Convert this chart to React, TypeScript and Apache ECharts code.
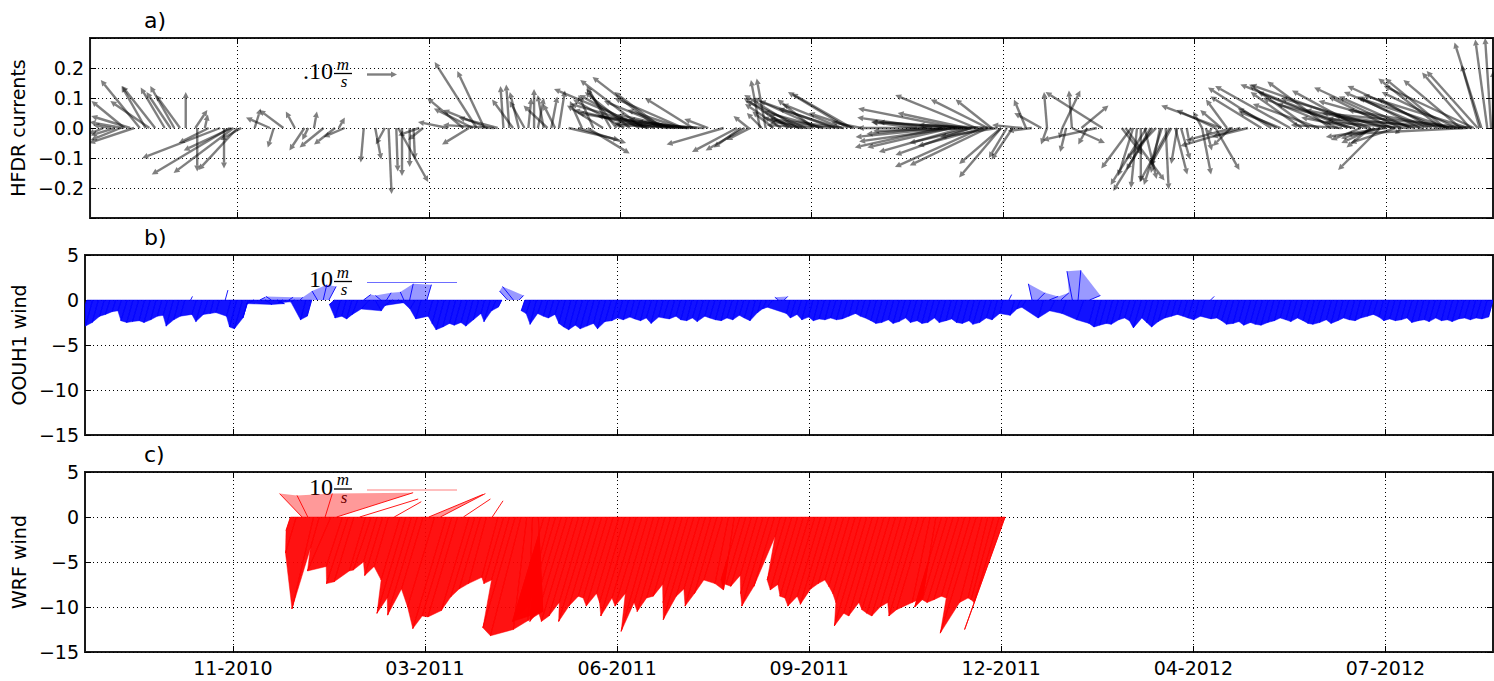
import React, { useEffect, useRef } from 'react';
import * as echarts from 'echarts';

// x axis: days counted from the 11-2010 tick
const tickDays = [0, 100, 200, 300, 400, 500, 600];
const tickLabels = ['11-2010', '03-2011', '06-2011', '09-2011', '12-2011', '04-2012', '07-2012'];
const dayMin = -77;
const dayMax = 656;

const panelTitles = ['a)', 'b)', 'c)'];
const panelNames = ['HFDR currents', 'OOUH1 wind', 'WRF wind'];

// HFDR currents: [day, u (m/s), v (m/s)]
const currentArrows = [
  [-59, -0.11, 0.09], [-56, -0.13, 0.04], [-60, -0.11, 0.02], [-61, -0.1, -0.04], [-64, -0.08, -0.025], [-54, -0.15, -0.05],
  [-51, -0.13, 0.16], [-48, -0.08, 0.14], [-43, -0.11, 0.14], [-38, -0.08, 0.135], [-33, -0.08, 0.14], [-35, -0.08, 0.12],
  [-30, -0.08, 0.11], [-27, 0, 0.12], [-46, -0.13, 0.09], [-66, -0.06, 0.01], [-70, -0.05, -0.02],
  [-22, 0.04, 0.06], [-17, 0.01, 0.045], [-9, -0.26, -0.1], [-4, -0.26, -0.155], [-2, -0.2, -0.15], [0, -0.13, -0.14],
  [-21, 0, -0.145], [-7, 0, -0.135], [-15, -0.1, -0.05], [-3, -0.16, -0.075], [2, -0.07, -0.04],
  [9, 0.02, 0.065], [17, -0.08, 0.035], [19, -0.02, -0.065], [24, -0.08, 0.06], [30, -0.03, 0.055], [35, -0.05, -0.075],
  [40, 0.01, 0.055], [37, -0.02, -0.04], [45, -0.08, -0.065], [51, -0.07, -0.055], [56, -0.07, -0.03], [53, 0.02, 0.035],
  [66, -0.01, -0.115], [72, 0.02, -0.105], [77, -0.03, -0.055], [79, 0.01, -0.22], [83, 0.005, -0.145], [86, 0, -0.16],
  [90, 0, -0.13], [84, 0.1, -0.18], [92, 0.005, -0.105], [95, -0.07, -0.025], [97, -0.05, -0.04],
  [125, -0.14, 0.22], [129, -0.09, 0.19], [118, -0.12, 0.1], [123, -0.13, 0.065], [131, -0.15, 0.06], [136, -0.13, 0.035],
  [121, -0.09, -0.055], [134, -0.17, 0.01], [110, -0.1, 0.02],
  [139, -0.01, 0.14], [142, -0.01, 0.145], [144, -0.07, 0.095], [152, 0.01, 0.1], [157, 0.02, 0.1], [164, 0.02, 0.105],
  [168, 0.02, 0.125], [162, -0.08, 0.075], [147, -0.03, 0.12], [150, -0.05, 0.09], [155, 0, 0.13], [160, -0.02, 0.11],
  [166, -0.04, 0.08],
  [212, -0.21, 0.16], [220, -0.22, 0.17], [222, -0.16, 0.12], [233, -0.23, 0.1], [238, -0.16, 0.1], [214, -0.31, 0.13],
  [202, -0.17, 0.095], [191, -0.12, 0.075], [178, 0.16, -0.05], [183, 0.14, -0.085], [173, 0.17, -0.04],
  [228, -0.15, 0.03], [236, -0.25, 0.01], [240, -0.2, 0.02], [244, -0.3, 0.015], [230, -0.2, 0.045],
  [215, -0.25, 0.06], [218, -0.28, 0.08], [225, -0.3, 0.05], [226, -0.22, 0.09], [232, -0.18, 0.06], [235, -0.3, 0.04],
  [210, -0.2, 0.11], [205, -0.15, 0.12], [198, -0.1, 0.13], [195, -0.08, 0.14], [186, -0.05, 0.11], [180, -0.04, 0.09],
  [254, -0.19, -0.055], [261, -0.15, -0.08], [265, -0.13, -0.075], [268, -0.08, -0.04], [263, -0.09, -0.065], [246, -0.08, 0.03],
  [267, -0.05, 0.04], [274, -0.05, 0.05], [273, -0.03, 0.16], [276, -0.03, 0.165], [280, -0.07, 0.055], [319, -0.2, 0.12],
  [321, -0.2, 0.115], [314, -0.2, 0.065], [306, -0.2, 0.055], [295, -0.13, 0.035], [301, -0.12, 0.095], [290, -0.08, 0.045],
  [300, -0.15, 0.01], [310, -0.2, 0.02], [317, -0.25, 0.03],
  [284, -0.12, 0.08], [288, -0.15, 0.1], [293, -0.18, 0.11], [297, -0.2, 0.09], [304, -0.22, 0.1], [312, -0.25, 0.09],
  [316, -0.2, 0.08], [322, -0.15, 0.05], [326, -0.1, 0.02],
  [376, -0.33, 0.065], [381, -0.23, 0.05], [363, -0.25, 0.035], [368, -0.28, 0], [386, -0.27, 0.11], [392, -0.19, 0.095],
  [394, -0.12, 0.095], [368, -0.29, -0.065], [373, -0.28, -0.065], [379, -0.28, -0.08], [389, -0.29, -0.13], [384, -0.21, -0.05],
  [397, -0.19, -0.03], [392, -0.26, -0.125], [399, -0.14, -0.165], [402, -0.06, -0.1], [399, -0.14, -0.12],
  [382, -0.3, 0.02], [387, -0.35, -0.01], [395, -0.25, 0.01],
  [355, -0.15, 0.02], [360, -0.2, -0.02], [370, -0.3, -0.03], [375, -0.32, -0.045], [378, -0.3, 0.02], [383, -0.25, -0.09],
  [390, -0.22, -0.06],
  [405, -0.07, -0.105], [412, -0.04, 0.095], [420, -0.09, 0.05], [423, -0.01, 0.12], [452, -0.19, 0.12], [436, -0.01, 0.125],
  [431, 0.06, 0.125], [441, 0.09, 0.075], [436, 0.11, -0.05], [423, -0.02, -0.055], [431, -0.01, -0.035], [433, -0.02, -0.08],
  [444, -0.03, -0.055], [449, -0.18, -0.04], [410, -0.1, 0.01], [415, -0.08, -0.01],
  [467, -0.1, -0.135], [475, -0.12, -0.19], [478, -0.13, -0.21], [470, -0.02, -0.2], [472, 0, -0.18], [483, -0.06, -0.19],
  [485, 0.01, -0.205], [490, 0.04, -0.155], [493, 0.03, -0.105], [496, 0.01, -0.055], [462, 0.07, -0.09], [480, -0.1, -0.105],
  [488, -0.07, -0.125], [464, 0.13, -0.175],
  [468, -0.05, -0.16], [474, 0.04, -0.17], [477, -0.08, -0.14], [482, -0.03, -0.15], [487, -0.1, -0.18], [491, -0.02, -0.12],
  [504, 0.03, -0.155], [511, 0.08, -0.14], [509, -0.01, -0.02], [514, -0.2, 0.075], [511, -0.13, 0.06], [504, -0.03, 0.055],
  [514, -0.07, 0.06], [517, -0.07, 0.095], [506, 0.02, -0.075], [519, -0.06, -0.06],
  [520, -0.15, -0.04], [524, -0.2, -0.06], [528, -0.12, -0.03],
  [540, -0.21, 0.135], [535, -0.17, 0.105], [550, -0.25, 0.14], [543, -0.13, 0.065], [545, -0.14, 0.055], [560, -0.2, 0.145],
  [556, -0.17, 0.12],
  [582, -0.37, 0.145], [592, -0.4, 0.145], [571, -0.21, 0.155], [587, -0.23, 0.125], [608, -0.29, 0.135], [603, -0.21, 0.105],
  [613, -0.24, 0.105], [618, -0.21, 0.105], [624, -0.18, 0.1], [631, -0.2, 0.165], [639, -0.19, 0.16], [644, -0.16, 0.185],
  [629, -0.21, 0.165], [597, -0.13, -0.035], [594, -0.11, -0.05], [592, -0.08, -0.065], [597, -0.14, -0.14], [608, -0.02, -0.02],
  [587, -0.1, -0.04], [577, -0.17, 0.01], [584, -0.18, 0.035],
  [565, -0.22, 0.08], [575, -0.25, 0.1], [580, -0.3, 0.12], [590, -0.3, 0.08], [600, -0.35, 0.1], [605, -0.3, 0.06],
  [615, -0.32, 0.09], [622, -0.28, 0.12], [627, -0.3, 0.14], [633, -0.3, 0.1], [637, -0.25, 0.12], [643, -0.35, 0.11],
  [646, -0.3, 0.14], [600, -0.2, -0.03], [605, -0.15, -0.05],
  [640, -0.45, 0.03], [645, -0.5, 0.05], [642, -0.4, -0.02], [635, -0.35, 0.06], [620, -0.3, 0.04], [612, -0.28, 0.02],
  [650, -0.09, 0.285], [653, -0.04, 0.295], [655, -0.02, 0.3], [649, -0.06, 0.21], [656, 0, 0.19], [648, -0.17, 0.19],
];

// OOUH1 wind sticks: [day, u (m/s), v (m/s)]
const oouh1Wind = [
  [-76, -0.6, -2.0], [-73, -0.8, -2.9], [-70, -0.7, -2.5], [-67, -0.5, -1.8], [-64, -0.5, -1.6], [-61, -0.4, -1.3],
  [-58, -0.4, -1.2], [-55, -0.7, -2.3], [-52, -0.7, -2.5], [-49, -0.7, -2.4], [-46, -0.6, -2.3], [-43, -0.7, -2.5],
  [-40, -0.6, -2.2], [-37, -0.5, -1.8], [-34, -0.5, -1.7], [-31, -0.8, -2.9], [-28, -0.6, -2.2], [-25, -0.5, -1.8],
  [-22, 0.2, 0.4], [-19, -0.5, -1.6], [-16, -0.7, -2.4], [-13, -0.5, -1.6], [-10, -0.4, -1.5], [-7, -0.4, -1.4],
  [-4, 0.3, 1.1], [-1, -0.5, -1.8], [2, -0.8, -3.0], [5, -0.9, -3.2], [8, -0.6, -2.0], [11, -0.8, -0.4],
  [14, 0.6, 0.3], [17, 0.7, -0.5], [20, -0.6, 0.4], [23, 0.8, -0.4], [26, -0.5, -0.3], [29, 0.5, 0.3],
  [32, -0.4, -0.2], [35, 0.3, 0.3], [38, -0.6, -2.2], [41, -0.5, -1.8], [44, -0.6, 1.0], [47, 0.4, 1.7],
  [50, 0.8, 1.5], [53, -0.6, -0.5], [56, -0.6, -2.0], [59, -0.5, -1.8], [62, -0.6, -2.1], [65, -0.6, -1.6],
  [68, 0.8, 0.6], [71, -0.9, -1.0], [74, 0.7, -1.2], [77, -0.6, 0.5], [80, 0.5, 0.8], [83, -0.8, -0.6],
  [86, 0.6, -0.3], [89, -0.4, 0.9], [92, 0.4, 1.8], [95, -0.6, -1.0], [98, -0.6, -2.1], [101, 0.5, 1.7],
  [104, -0.5, -1.8], [107, -0.7, -2.6], [110, -0.9, -3.3], [113, -0.8, -3.0], [116, -0.7, -2.6], [119, -0.8, -2.8],
  [122, -0.7, -2.5], [125, -0.8, -2.9], [128, -0.6, -2.2], [131, -0.4, -1.5], [134, -0.7, -2.4], [137, -0.5, -1.2],
  [140, -0.4, -0.8], [143, -0.9, 1.0], [146, -1.2, 1.5], [149, 0.5, 0.5], [152, -0.4, -1.2], [155, -0.5, -1.5],
  [158, -0.7, -2.7], [161, -0.5, -1.5], [164, -0.5, -1.8], [167, -0.6, -2.0], [170, -0.5, -1.6], [173, -0.7, -2.6],
  [176, -0.8, -3.0], [179, -0.9, -3.3], [182, -0.8, -2.8], [185, -0.9, -3.2], [188, -0.8, -2.9], [191, -0.7, -2.6],
  [194, -0.9, -3.2], [197, -0.7, -2.4], [200, -0.6, -2.3], [203, -0.6, -2.0], [206, -0.6, -2.2], [209, -0.5, -1.9],
  [212, -0.6, -2.1], [215, -0.6, -2.3], [218, -0.6, -2.0], [221, -0.7, -2.6], [224, -0.5, -1.9], [227, -0.6, -2.0],
  [230, -0.6, -2.1], [233, -0.5, -1.8], [236, -0.6, -2.2], [239, -0.6, -2.3], [242, -0.6, -2.0], [245, -0.7, -2.4],
  [248, -0.5, -1.8], [251, -0.6, -2.0], [254, -0.6, -2.2], [257, -0.6, -2.3], [260, -0.6, -2.0], [263, -0.6, -2.2],
  [266, -0.5, -1.7], [269, -0.6, -2.0], [272, -0.6, -2.3], [275, -0.4, -1.4], [278, -0.5, -1.0], [281, -0.6, -0.8],
  [284, -0.4, 0.3], [287, 0.4, 0.4], [290, -0.4, -1.5], [293, -0.6, -2.0], [296, -0.5, -1.6], [299, -0.6, -2.2],
  [302, -0.5, -1.9], [305, -0.6, -2.3], [308, -0.6, -2.1], [311, -0.6, -2.2], [314, -0.6, -2.0], [317, -0.6, -2.2],
  [320, -0.6, -2.1], [323, -0.5, -1.8], [326, -0.4, -1.5], [329, -0.5, -1.8], [332, -0.6, -2.0], [335, -0.6, -2.3],
  [338, -0.7, -2.6], [341, -0.7, -2.5], [344, -0.6, -2.2], [347, -0.7, -2.6], [350, -0.7, -2.4], [353, -0.6, -2.0],
  [356, -0.7, -2.5], [359, -0.6, -2.3], [362, -0.7, -2.6], [365, -0.7, -2.5], [368, -0.6, -2.0], [371, -0.7, -2.5],
  [374, -0.6, -2.3], [377, -0.6, -2.1], [380, -0.7, -2.5], [383, -0.7, -2.6], [386, -0.6, -2.3], [389, -0.8, -2.7],
  [392, -0.7, -2.5], [395, -0.6, -2.0], [398, -0.6, -2.2], [401, -0.4, -1.5], [404, 0.3, 0.6], [407, -0.5, -1.7],
  [410, -0.4, -1.0], [413, -0.5, -0.8], [416, -0.4, 1.8], [419, 0.8, 0.8], [422, -0.6, -2.0], [425, 1.0, 0.4],
  [428, -0.6, -1.2], [431, 0.9, 0.8], [434, -0.5, -1.5], [437, -0.6, 3.2], [440, 0.3, 3.3], [443, -0.8, -2.2],
  [446, 1.2, 0.5], [449, -0.7, -2.6], [452, -0.8, -3.0], [455, -0.8, -2.8], [458, -0.7, -2.6], [461, -0.8, -2.7],
  [464, -0.6, -2.2], [467, -0.6, -2.0], [470, -0.7, -2.3], [473, -0.9, -3.1], [476, -0.6, -2.0], [479, -0.7, -2.5],
  [482, -0.8, -3.0], [485, -0.7, -2.4], [488, -0.6, -2.0], [491, -0.5, -1.8], [494, -0.5, -1.6], [497, -0.5, -1.8],
  [500, -0.6, -2.0], [503, -0.6, -2.2], [506, -0.5, -1.8], [509, 0.4, 0.4], [512, -0.6, -2.1], [515, -0.6, -2.0],
  [518, -0.7, -2.3], [521, -0.8, -2.7], [524, -0.7, -2.6], [527, -0.7, -2.4], [530, -0.8, -2.8], [533, -0.7, -2.5],
  [536, -0.8, -2.7], [539, -0.8, -2.8], [542, -0.7, -2.5], [545, -0.6, -2.3], [548, -0.6, -2.0], [551, -0.6, -2.2],
  [554, -0.7, -2.4], [557, -0.6, -2.0], [560, -0.6, -2.3], [563, -0.7, -2.6], [566, -0.8, -2.7], [569, -0.7, -2.5],
  [572, -0.6, -2.2], [575, -0.7, -2.6], [578, -0.6, -2.3], [581, -0.6, -2.0], [584, -0.6, -2.2], [587, -0.6, -2.3],
  [590, -0.6, -2.0], [593, -0.5, -1.8], [596, -0.5, -1.6], [599, -0.5, -1.9], [602, -0.6, -2.3], [605, -0.6, -2.1],
  [608, -0.6, -2.3], [611, -0.6, -2.2], [614, -0.6, -2.0], [617, -0.7, -2.5], [620, -0.6, -2.3], [623, -0.6, -2.2],
  [626, -0.7, -2.4], [629, -0.6, -2.0], [632, -0.6, -2.3], [635, -0.6, -2.2], [638, -0.7, -2.4], [641, -0.6, -2.1],
  [644, -0.6, -2.0], [647, -0.6, -2.2], [650, -0.6, -2.0], [653, -0.6, -2.1], [656, -0.5, -1.9],
];

// WRF wind sticks: [day, u (m/s), v (m/s)]
const wrfWind = [
  [30, -0.5, -1.5], [33, -1.2, -4.0], [36, -2.5, 2.6], [39, -1.2, 2.4], [42, -2.4, -10.2], [45, -1.0, -3.5],
  [48, 0.8, 2.6], [51, -2.6, -6.0], [54, 8.5, 2.7], [57, -1.8, -5.5], [60, -2.4, -7.4], [63, -2.2, -7.2],
  [66, 6.5, 2.0], [69, -1.8, -6.0], [72, -2.0, -5.9], [75, -1.5, -5.0], [78, -2.0, -6.5], [81, -1.6, -5.5],
  [84, 3.0, 1.7], [87, -2.1, -7.0], [90, -3.2, -10.7], [93, -2.7, -9.0], [96, -3.3, -10.9], [99, -2.4, -8.0],
  [102, 6.0, 2.5], [105, -3.0, -10.0], [108, 5.0, 2.6], [111, -3.7, -12.4], [114, -3.3, -11.0], [117, -3.3, -11.1],
  [120, 3.0, 2.0], [123, -3.1, -10.4], [126, -2.7, -8.9], [129, -2.4, -8.0], [132, -2.0, -7.4], [135, 1.2, 1.8],
  [138, -1.8, -6.7], [141, -2.2, -7.4], [144, -2.0, -7.0], [147, -3.6, -12.3], [150, -3.4, -13.2], [153, -1.5, -12.5],
  [156, -0.5, -11.5], [159, 0.5, -10.5], [162, -3.5, -11.6], [165, -2.5, -9.9], [168, -2.4, -8.0], [171, -3.5, -11.6],
  [174, -3.2, -10.5], [177, -3.5, -11.6], [180, -3.3, -11.0], [183, -2.8, -9.5], [186, -3.5, -11.6], [189, -3.0, -9.9],
  [192, -2.6, -8.8], [195, -2.7, -9.0], [198, -3.0, -9.9], [201, -2.5, -8.5], [204, -2.8, -9.5], [207, -3.3, -11.0],
  [210, -2.7, -9.0], [213, -3.0, -9.9], [216, -2.5, -8.5], [219, -3.6, -12.7], [222, -2.8, -9.5], [225, -3.1, -10.5],
  [228, -2.7, -9.0], [231, -2.6, -8.8], [234, -2.2, -7.5], [237, -2.8, -9.5], [240, -3.4, -11.4], [243, -2.6, -8.8],
  [246, -2.4, -8.0], [249, -2.9, -9.9], [252, -2.5, -8.5], [255, -2.1, -7.0], [258, -1.5, -7.4], [261, -1.2, -8.1],
  [264, -2.1, -7.0], [267, -2.2, -7.5], [270, -2.3, -7.7], [273, -1.9, -6.5], [276, -2.5, -8.5], [279, -3.0, -9.9],
  [282, -2.3, -7.7], [285, -0.6, -2.2], [288, -2.1, -7.0], [291, -2.4, -8.1], [294, -2.2, -7.5], [297, -2.6, -8.8],
  [300, -2.7, -9.0], [303, -3.0, -9.9], [306, -2.6, -8.8], [309, -2.9, -9.7], [312, -2.4, -8.0], [315, -2.2, -7.4],
  [318, -2.1, -7.0], [321, -2.3, -7.7], [324, -2.5, -8.5], [327, -2.8, -9.5], [330, -3.6, -12.1], [333, -3.2, -10.7],
  [336, -3.3, -11.0], [339, -2.8, -9.5], [342, -3.1, -10.3], [345, -3.2, -10.7], [348, -3.3, -11.0], [351, -3.0, -10.0],
  [354, -2.8, -9.5], [357, -3.3, -11.0], [360, -3.1, -10.3], [363, -2.0, -9.5], [366, -1.5, -9.0], [369, -3.0, -10.0],
  [372, -2.8, -9.2], [375, -2.9, -9.5], [378, -2.8, -9.2], [381, -2.6, -8.8], [384, -2.7, -9.0], [387, -4.0, -12.9],
  [390, -2.5, -9.5], [393, -2.2, -9.0], [396, -2.5, -9.2], [399, -2.8, -9.5], [402, -4.5, -12.5],
];

const FONT = '"DejaVu Sans", sans-serif';

function stickRenderer(data: number[][], color: string) {
  return (params: any, api: any) => {
    const i = params.dataIndex;
    const [d, u, v] = data[i];
    const base = api.coord([d, 0]);
    const ppu = api.size([0, 1])[1];
    const tip = [base[0] + u * ppu, api.coord([d, v])[1]];
    const children: any[] = [];
    for (let j = i + 1; j < data.length && data[j][0] - d <= 9; j++) {
      if ((data[j][2] >= 0) === (v >= 0)) {
        const [d2, u2, v2] = data[j];
        const b2 = api.coord([d2, 0]);
        const t2 = [b2[0] + u2 * ppu, api.coord([d2, v2])[1]];
        const up = v >= 0;
        children.push({
          type: 'polygon',
          shape: { points: [base, tip, t2, b2] },
          style: { fill: color, opacity: up ? 0.4 : 0.93, stroke: color, lineWidth: up ? 0 : 0.5 },
        });
        break;
      }
    }
    children.push({
      type: 'line',
      shape: { x1: base[0], y1: base[1], x2: tip[0], y2: tip[1] },
      style: { stroke: color, lineWidth: 1, opacity: 0.9 },
    });
    return { type: 'group', children };
  };
}

function arrowRenderer(data: number[][]) {
  return (params: any, api: any) => {
    const [d, u, v] = data[params.dataIndex];
    const base = api.coord([d, 0]);
    const ppu = api.size([0, 1])[1];
    const tx = base[0] + u * ppu;
    const ty = api.coord([d, v])[1];
    const dx = tx - base[0];
    const dy = ty - base[1];
    const L = Math.hypot(dx, dy) || 1;
    const ux = dx / L;
    const uy = dy / L;
    const hl = Math.min(6, L * 0.5);
    const hw = 3;
    const sx = tx - ux * hl;
    const sy = ty - uy * hl;
    return {
      type: 'group',
      children: [
        { type: 'line', shape: { x1: base[0], y1: base[1], x2: sx, y2: sy }, style: { stroke: '#000', lineWidth: 2.4, opacity: 0.5 } },
        {
          type: 'polygon',
          shape: { points: [[tx, ty], [sx - uy * hw, sy + ux * hw], [sx + uy * hw, sy - ux * hw]] },
          style: { fill: '#000', opacity: 0.5 },
        },
      ],
    };
  };
}

const gridTops = [38, 255, 472];
const titleTops = [9, 226, 443];

function keyElements(y0: number, isArrow: boolean, lineColor: string, label: string) {
  const els: any[] = [
    { type: 'text', style: { text: label, x: 333, y: y0, align: 'right', verticalAlign: 'middle', font: '24px "Liberation Serif", serif', fill: '#000' } },
    { type: 'text', style: { text: 'm', x: 343, y: y0 - 7, align: 'center', verticalAlign: 'middle', font: 'italic 17px "Liberation Serif", serif', fill: '#000' } },
    { type: 'line', shape: { x1: 334, y1: y0 + 2.5, x2: 352, y2: y0 + 2.5 }, style: { stroke: '#000', lineWidth: 1.3 } },
    { type: 'text', style: { text: 's', x: 344, y: y0 + 10.5, align: 'center', verticalAlign: 'middle', font: 'italic 17px "Liberation Serif", serif', fill: '#000' } },
  ];
  if (isArrow) {
    els.push({ type: 'line', shape: { x1: 367, y1: y0 + 3.5, x2: 391, y2: y0 + 3.5 }, style: { stroke: '#000', lineWidth: 2.4, opacity: 0.5 } });
    els.push({ type: 'polygon', shape: { points: [[397, y0 + 3.5], [391, y0 + 0.5], [391, y0 + 6.5]] }, style: { fill: '#000', opacity: 0.5 } });
  } else {
    els.push({ type: 'line', shape: { x1: 367, y1: y0 + 3.5, x2: 457, y2: y0 + 3.5 }, style: { stroke: lineColor, lineWidth: 1.2 } });
  }
  return els;
}

export default function App() {
  const ref = useRef<HTMLDivElement>(null);
  useEffect(() => {
    if (!ref.current) return;
    const chart = echarts.init(ref.current, undefined, { renderer: 'svg' });
    const dotted = { color: '#000', type: [1, 3] as any, width: 1 };
    const xFmt = (v: number) => {
      const k = tickDays.indexOf(Math.round(v));
      return k >= 0 ? tickLabels[k] : '';
    };
    const yFmtA = (v: number) => {
      if (Math.abs(v) > 0.25) return '';
      const s = Math.abs(v).toFixed(1);
      return v < -1e-9 ? '\u2212' + s : s;
    };
    const yFmtW = (v: number) => (v < 0 ? '\u2212' + Math.abs(v) : String(v));

    const grid = gridTops.map((t) => ({
      left: 85, right: 1, top: t, height: 180, show: true, borderColor: '#1a1a1a', borderWidth: 2, backgroundColor: 'rgba(0,0,0,0)',
    }));
    const xAxis: any[] = [];
    const yAxis: any[] = [];
    gridTops.forEach((_, i) => {
      xAxis.push({
        type: 'value', gridIndex: i, min: dayMin, max: dayMax, position: 'bottom',
        axisLine: { show: false, onZero: false },
        axisTick: { show: true, inside: true, length: 6, customValues: tickDays, lineStyle: { color: '#000', width: 1 } },
        axisLabel: { show: i === 2, customValues: tickDays, formatter: xFmt, fontSize: 19, color: '#000', fontFamily: FONT, margin: 6 },
        splitLine: { show: true, lineStyle: dotted },
      });
      const yBase: any = i === 0
        ? { min: -0.3, max: 0.3, interval: 0.1 }
        : { min: -15, max: 5, interval: 5 };
      yAxis.push({
        type: 'value', gridIndex: i, position: 'left', ...yBase,
        name: panelNames[i], nameLocation: 'middle', nameRotate: 90, nameGap: 48,
        nameTextStyle: { fontSize: 19, color: '#000', fontFamily: FONT },
        axisLine: { show: false, onZero: false },
        axisTick: { show: true, inside: true, length: 6, lineStyle: { color: '#000' } },
        axisLabel: { formatter: i === 0 ? yFmtA : yFmtW, fontSize: 19, color: '#000', fontFamily: FONT, margin: 6 },
        splitLine: { show: true, lineStyle: dotted },
      });
    });
    gridTops.forEach((_, i) => {
      xAxis.push({
        type: 'value', gridIndex: i, min: dayMin, max: dayMax, position: 'top',
        axisLine: { show: false, onZero: false },
        axisTick: { show: true, inside: true, length: 6, customValues: tickDays, lineStyle: { color: '#000' } },
        axisLabel: { show: false }, splitLine: { show: false },
      });
      const yBase: any = i === 0 ? { min: -0.3, max: 0.3, interval: 0.1 } : { min: -15, max: 5, interval: 5 };
      yAxis.push({
        type: 'value', gridIndex: i, position: 'right', ...yBase,
        axisLine: { show: false, onZero: false },
        axisTick: { show: true, inside: true, length: 6, lineStyle: { color: '#000' } },
        axisLabel: { show: false }, splitLine: { show: false },
      });
    });

    const option: any = {
      animation: false,
      backgroundColor: '#fff',
      title: panelTitles.map((t, i) => ({
        text: t, left: 144, top: titleTops[i], padding: 0,
        textStyle: { fontSize: 22, fontWeight: 'normal', color: '#000', fontFamily: FONT },
      })),
      grid,
      xAxis,
      yAxis,
      series: [
        { type: 'custom', xAxisIndex: 0, yAxisIndex: 0, data: currentArrows, encode: { x: 0, y: 2 }, clip: true, renderItem: arrowRenderer(currentArrows), z: 3 },
        { type: 'custom', xAxisIndex: 1, yAxisIndex: 1, data: oouh1Wind, encode: { x: 0, y: 2 }, clip: true, renderItem: stickRenderer(oouh1Wind, '#0000ff'), z: 3 },
        { type: 'custom', xAxisIndex: 2, yAxisIndex: 2, data: wrfWind, encode: { x: 0, y: 2 }, clip: true, renderItem: stickRenderer(wrfWind, '#ff0000'), z: 3 },
      ],
      graphic: [
        ...keyElements(71, true, '#000', '.10'),
        ...keyElements(279, false, '#6d6dff', '10'),
        ...keyElements(486.5, false, '#ff8080', '10'),
      ],
    };
    chart.setOption(option);
    return () => chart.dispose();
  }, []);
  return <div ref={ref} style={{ position: 'absolute', left: 0, top: 0, width: 1494, height: 681 }} />;
}
